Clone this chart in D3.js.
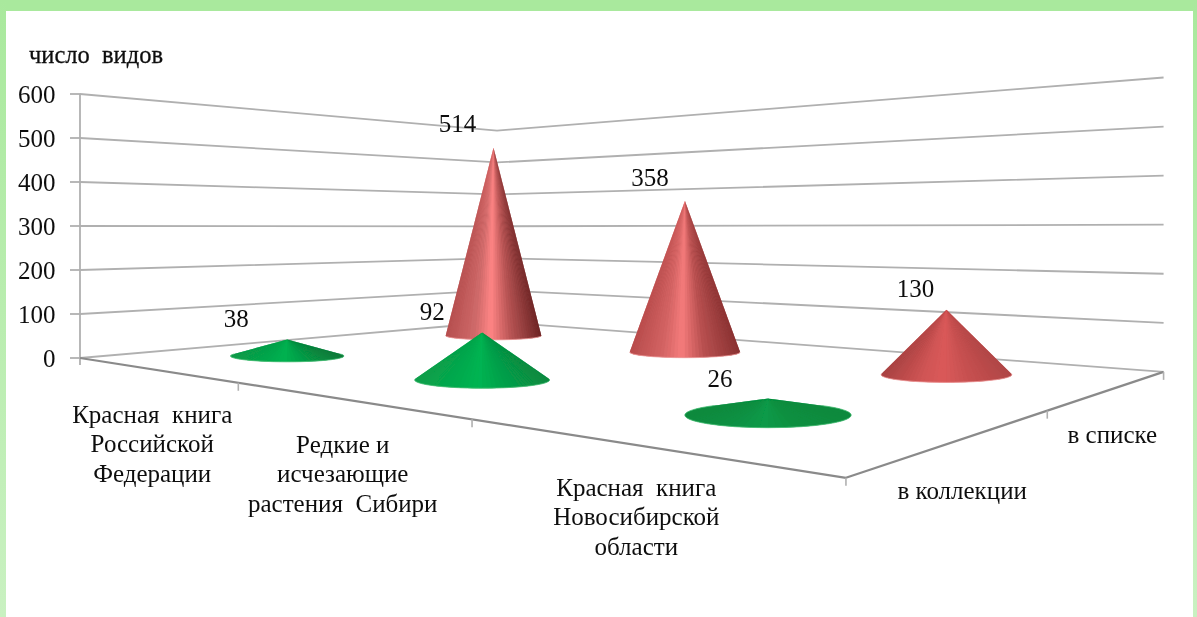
<!DOCTYPE html>
<html>
<head>
<meta charset="utf-8">
<script src="https://cdn.jsdelivr.net/npm/d3@7"></script>
<style>
  html, body { margin: 0; padding: 0; background: #fff; overflow: hidden; }
  svg { display: block; }
  text { font-family: "Liberation Serif", serif; fill: #111; white-space: pre; }
</style>
</head>
<body>
<svg></svg>
<script>
// values
const categories = ['Красная  книга|Российской|Федерации', 'Редкие и|исчезающие|растения  Сибири', 'Красная  книга|Новосибирской|области']
const seriesNames = ['в коллекции', 'в списке']
const inCollection = [38, 92, 26]
const inList = [514, 358, 130]
const valueTicks = [0, 100, 200, 300, 400, 500, 600]

// shading per cone: left edge, before highlight, highlight, after highlight, right edge
const greenShades = [
  ['#0a9a48', '#05a74c', '#00b251', '#069a46', '#0b7a3a'],
  ['#0a9e4a', '#04ab4e', '#00b452', '#05a04a', '#0a8a40'],
  ['#0b8a3e', '#0a9244', '#089a48', '#0a9040', '#0c8a3e']
]
const redShades = [
  ['#b64f4f', '#cf6a6a', '#ff8585', '#b95555', '#6e2626'],
  ['#b84c4c', '#d46464', '#f57c7c', '#b85050', '#8a3232'],
  ['#a94242', '#cf5454', '#da5a5a', '#c75050', '#b04646']
]
const shadeStops = [0, 0.3, 0.47, 0.68, 1]

const width = 1197
const height = 617

const svg = d3.select('svg')
  .attr('width', width)
  .attr('height', height)
  .attr('viewBox', `0 0 ${width} ${height}`)

const defs = svg.append('defs')

// soft look of the scanned picture
defs.append('filter').attr('id', 'soft')
  .append('feGaussianBlur').attr('stdDeviation', 0.6)
defs.append('filter').attr('id', 'softText')
  .append('feGaussianBlur').attr('stdDeviation', 0.3)

const edgeGrad = defs.append('linearGradient')
  .attr('id', 'edge').attr('x1', 0).attr('y1', 0).attr('x2', 0).attr('y2', 1)
edgeGrad.append('stop').attr('offset', 0).attr('stop-color', '#a9e99d')
edgeGrad.append('stop').attr('offset', 1).attr('stop-color', '#c9f1c1')

svg.append('rect').attr('width', width).attr('height', height).attr('fill', '#fff')
svg.append('rect').attr('width', width).attr('height', 11).attr('fill', '#a9e99d')
svg.append('rect').attr('width', 6).attr('height', height).attr('fill', 'url(#edge)')
svg.append('rect').attr('x', 1193).attr('width', 4).attr('height', height).attr('fill', 'url(#edge)')

// scales work on the floor (0..1 each way) and at unit depth for the value
const x = d3.scaleBand().domain(d3.range(categories.length)).range([0, 1.004])
const depth = d3.scaleBand().domain(d3.range(seriesNames.length)).range([0, 1])
const y = d3.scaleLinear().domain([0, 600]).range([0, 264])

// perspective of the floor, worked out from its four corners on the picture
const persp = { a: 358.2, b: 605.3, c: 80, d: -110.5, e: 86, f: 358, g: -0.482, h: 0.3788 }

const project = function (u, v, value = 0) {
  const w = 1 + persp.g * u + persp.h * v
  return {
    x: (persp.a * u + persp.b * v + persp.c) / w,
    y: (persp.d * u + persp.e * v + persp.f - y(value)) / w,
    w: w
  }
}

const chart = svg.append('g').attr('filter', 'url(#soft)')

const gridColour = '#b0b0b0'
const axisColour = '#8a8a8a'

const seg = function (p, q, colour, sw) {
  chart.append('line')
    .attr('x1', p.x).attr('y1', p.y).attr('x2', q.x).attr('y2', q.y)
    .attr('stroke', colour).attr('stroke-width', sw)
}

// walls
valueTicks.forEach(t => {
  const left = project(0, 0, t)
  const back = project(0, 1, t)
  const right = project(1, 1, t)
  chart.append('polyline')
    .attr('points', [left, back, right].map(p => `${p.x},${p.y}`).join(' '))
    .attr('fill', 'none')
    .attr('stroke', gridColour)
    .attr('stroke-width', 1.8)
  seg({ x: left.x - 10, y: left.y }, left, gridColour, 1.8)
})

// value axis
seg(project(0, 0, 600), { x: project(0, 0).x, y: project(0, 0).y + 7 }, gridColour, 1.8)

// floor edges and their ticks
seg(project(0, 0), project(1, 0), axisColour, 2.2)
seg(project(1, 0), project(1, 1), axisColour, 2.2)
categories.forEach((c, i) => {
  const p = project(Math.min(1, x(i) + x.bandwidth()), 0)
  seg(p, { x: p.x, y: p.y + 8 }, gridColour, 1.6)
})
seriesNames.forEach((s, i) => {
  const p = project(1, depth(i) + depth.bandwidth())
  seg(p, { x: p.x, y: p.y + 8 }, gridColour, 1.6)
})

// one row of cones, cut into thin wedges from the tip so the shading narrows upwards
const drawCones = function (values, row, shades, rim, prefix) {
  values.forEach((value, i) => {
    const u = x(i) + x.bandwidth() / 2
    const v = depth(row) + depth.bandwidth() / 2
    const base = project(u, v)
    const tip = project(u, v, value)
    const rx = 57.5 / base.w
    const ry = 6 / (base.w * base.w)
    const H = base.y - tip.y
    const ty = ry * ry / H
    const tx = rx * Math.sqrt(1 - ty * ty / (ry * ry))

    const colour = d3.scaleLinear().domain(shadeStops).range(shades[i])
    const start = Math.PI + Math.asin(ty / ry)
    const end = -Math.asin(ty / ry)
    const angle = d3.scaleLinear().domain([0, 1]).range([start, end])
    const pointAt = t => {
      const a = angle(t)
      return [base.x + rx * Math.cos(a), base.y + ry * Math.sin(a)]
    }

    // gradient body underneath hides the seams between wedges
    const grad = defs.append('linearGradient')
      .attr('id', `${prefix}${i}`)
      .attr('gradientUnits', 'userSpaceOnUse')
      .attr('x1', base.x - rx).attr('x2', base.x + rx)
      .attr('y1', 0).attr('y2', 0)
    shadeStops.forEach((o, k) => {
      grad.append('stop').attr('offset', o).attr('stop-color', shades[i][k])
    })
    chart.append('path')
      .attr('d', `M${tip.x},${tip.y} L${base.x - tx},${base.y - ty} `
        + `A${rx},${ry} 0 1 0 ${base.x + tx},${base.y - ty} Z`)
      .attr('fill', `url(#${prefix}${i})`)

    const n = 48
    const g = chart.append('g')
    d3.range(n).forEach(k => {
      const p0 = pointAt(k / n)
      const p1 = pointAt((k + 1) / n)
      const mid = (p0[0] + p1[0]) / 2
      g.append('path')
        .attr('d', `M${tip.x},${tip.y} L${p0[0]},${p0[1]} L${p1[0]},${p1[1]} Z`)
        .attr('fill', colour((mid - (base.x - rx)) / (2 * rx)))
    })

    // pale rim along the bottom
    chart.append('path')
      .attr('d', `M${base.x - tx},${base.y - ty} A${rx},${ry} 0 1 0 ${base.x + tx},${base.y - ty}`)
      .attr('fill', 'none')
      .attr('stroke', rim)
      .attr('stroke-width', 0.8)
  })
}

drawCones(inList, 1, redShades, '#ee9a9a', 'red')
drawCones(inCollection, 0, greenShades, '#4fc07a', 'green')

const labels = svg.append('g').attr('filter', 'url(#softText)')

const label = function (txt, px, py, size) {
  return labels.append('text')
    .attr('x', px).attr('y', py)
    .attr('text-anchor', 'middle')
    .attr('dominant-baseline', 'central')
    .attr('font-size', size)
    .text(txt)
}

// value axis labels
valueTicks.forEach(t => {
  const p = project(0, 0, t)
  labels.append('text')
    .attr('x', 55.5).attr('y', p.y)
    .attr('text-anchor', 'end')
    .attr('dominant-baseline', 'central')
    .attr('font-size', 25)
    .text(t)
})

label('число  видов', 96, 54, 24.5)
  .attr('stroke', '#111')
  .attr('stroke-width', 0.3)

// category labels, under the middle of each band on the front edge
const categoryOffsets = [45, 45, 42]
categories.forEach((c, i) => {
  const p = project(x(i) + x.bandwidth() / 2, 0)
  c.split('|').forEach((line, k) => {
    label(line, p.x, p.y + categoryOffsets[i] + k * 29.5, 25)
  })
})

// series labels along the right edge
const seriesOffsets = [51, 46]
seriesNames.forEach((s, i) => {
  const p = project(1, depth(i) + depth.bandwidth() / 2)
  label(s, p.x, p.y + seriesOffsets[i], 25)
})

// value labels sit up and left of each tip
const greenLabelShift = [-51, -50, -48]
const redLabelShift = [-36, -35, -31]
const greenLabelRise = [21, 21, 20]
const redLabelRise = [24, 24, 21]
const valueLabels = function (values, row, shifts, rise) {
  values.forEach((value, i) => {
    const tip = project(x(i) + x.bandwidth() / 2, depth(row) + depth.bandwidth() / 2, value)
    label(value, tip.x + shifts[i], tip.y - rise[i], 25)
  })
}
valueLabels(inCollection, 0, greenLabelShift, greenLabelRise)
valueLabels(inList, 1, redLabelShift, redLabelRise)
</script>
</body>
</html>
